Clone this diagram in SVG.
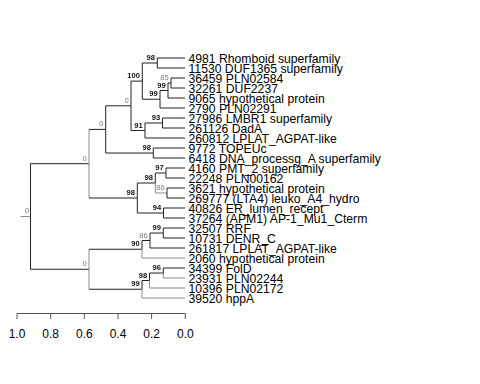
<svg xmlns="http://www.w3.org/2000/svg" width="480" height="384" viewBox="0 0 480 384">
<style>
.e{fill:none;stroke:#222;stroke-width:1}
.g{fill:none;stroke:#8c8c8c;stroke-width:1}
.lf{font-family:"Liberation Sans",Arial,sans-serif;font-size:12.2px;fill:#000}
.bs{font-family:"Liberation Sans",Arial,sans-serif;font-size:7.6px;font-weight:bold;fill:#111;text-anchor:end}
.bg{font-family:"Liberation Sans",Arial,sans-serif;font-size:7.6px;fill:#7a7a7a;text-anchor:end}
.ax{fill:none;stroke:#555;stroke-width:1}
.at{font-family:"Liberation Sans",Arial,sans-serif;font-size:12px;fill:#000;text-anchor:middle}
</style>
<defs><filter id="flat" x="0" y="0" width="1" height="1"><feOffset dx="0" dy="0"/></filter></defs>
<rect width="480" height="384" fill="#fff"/>
<g id="connectors">
<path class="g" d="M20.5 216.5 H30.5"/>
<path class="e" d="M30.5 216.5 V163.7 H89"/>
<path class="e" d="M30.5 216.5 V269.25 H89"/>
<path class="g" d="M89 163.7 V129.4"/><path class="e" d="M89 129.4 H105.7"/>
<path class="g" d="M89 163.7 V198"/><path class="e" d="M89 198 H137.3"/>
<path class="e" d="M105.7 129.4 V105.8 H131"/>
<path class="e" d="M105.7 129.4 V153 H153.3"/>
<path class="e" d="M131 105.8 V81.1 H142.3"/>
<path class="e" d="M131 105.8 V130.5 H145"/>
<path class="e" d="M142.3 81.1 V63 H157.3"/>
<path class="e" d="M142.3 81.1 V99.25 H160"/>
<path class="e" d="M157.3 63 V58 H185"/>
<path class="e" d="M157.3 63 V68 H185"/>
<path class="e" d="M160 99.25 V90.5 H168"/>
<path class="e" d="M160 99.25 V108 H185"/>
<path class="e" d="M168 90.5 V83 H171"/>
<path class="e" d="M168 90.5 V98 H185"/>
<path class="e" d="M171 83 V78 H185"/>
<path class="e" d="M171 83 V88 H185"/>
<path class="e" d="M145 130.5 V123 H162.5"/>
<path class="e" d="M145 130.5 V138 H185"/>
<path class="e" d="M162.5 123 V118 H185"/>
<path class="e" d="M162.5 123 V128 H185"/>
<path class="e" d="M153.3 153 V148 H185"/>
<path class="e" d="M153.3 153 V158 H185"/>
<path class="e" d="M137.3 198 V183 H155.3"/>
<path class="e" d="M137.3 198 V213 H163.5"/>
<path class="e" d="M155.3 183 V173 H166"/>
<path class="g" d="M155.3 183 V193 H167"/>
<path class="e" d="M166 173 V168 H185"/>
<path class="e" d="M166 173 V178 H185"/>
<path class="e" d="M167 193 V188 H185"/>
<path class="e" d="M167 193 V198 H185"/>
<path class="e" d="M163.5 213 V208 H185"/>
<path class="e" d="M163.5 213 V218 H185"/>
<path class="g" d="M89 269.25 V249.25"/><path class="e" d="M89 249.25 H142"/>
<path class="g" d="M89 269.25 V289.25"/><path class="e" d="M89 289.25 H142"/>
<path class="e" d="M142 249.25 V240.5 H150"/>
<path class="g" d="M142 249.25 V258 H185"/>
<path class="e" d="M150 240.5 V233 H163.3"/>
<path class="e" d="M150 240.5 V248 H185"/>
<path class="e" d="M163.3 233 V228 H185"/>
<path class="e" d="M163.3 233 V238 H185"/>
<path class="e" d="M142 289.25 V280.5 H149.5"/>
<path class="g" d="M142 289.25 V298 H185"/>
<path class="e" d="M149.5 280.5 V273 H163.3"/>
<path class="g" d="M149.5 280.5 V288 H185"/>
<path class="e" d="M163.3 273 V268 H185"/>
<path class="g" d="M163.3 273 V278 H185"/>
</g>
<g id="support" filter="url(#flat)">
<g id="n-root"><text class="bg" x="29.3" y="212.5">0</text></g>
<g id="n-0up"><text class="bg" x="86.7" y="160.7">0</text></g>
<g id="n-0low"><text class="bg" x="86.7" y="266.2">0</text></g>
<g id="n-0a"><text class="bg" x="103.4" y="126.4">0</text></g>
<g id="n-0b"><text class="bg" x="128.7" y="102.8">0</text></g>
<g id="n-100"><text class="bs" x="140" y="78.1">100</text></g>
<g id="n-98a"><text class="bs" x="155" y="60">98</text></g>
<g id="n-99l"><text class="bs" x="157.7" y="96.2">99</text></g>
<g id="n-99u"><text class="bs" x="165.7" y="87.5">99</text></g>
<g id="n-85"><text class="bg" x="168.7" y="80">85</text></g>
<g id="n-91"><text class="bs" x="142.7" y="127.5">91</text></g>
<g id="n-93"><text class="bs" x="160.2" y="120">93</text></g>
<g id="n-98b"><text class="bs" x="151" y="150">98</text></g>
<g id="n-98d"><text class="bs" x="135" y="195">98</text></g>
<g id="n-98c"><text class="bs" x="153" y="180">98</text></g>
<g id="n-97"><text class="bs" x="163.7" y="170">97</text></g>
<g id="n-86b"><text class="bg" x="164.7" y="190">86</text></g>
<g id="n-94"><text class="bs" x="161.2" y="210">94</text></g>
<g id="n-90"><text class="bs" x="139.7" y="246.2">90</text></g>
<g id="n-86c"><text class="bg" x="147.7" y="237.5">86</text></g>
<g id="n-99e"><text class="bs" x="161" y="230">99</text></g>
<g id="n-99f"><text class="bs" x="139.7" y="286.2">99</text></g>
<g id="n-98f"><text class="bs" x="147.2" y="277.5">98</text></g>
<g id="n-96"><text class="bs" x="161" y="270">96</text></g>
</g>
<g id="leaves">
<g id="t1"><text class="lf" x="188.5" y="62.5">4981 Rhomboid superfamily</text></g>
<g id="t2"><text class="lf" x="188.5" y="72.5">11530 DUF1365 superfamily</text></g>
<g id="t3"><text class="lf" x="188.5" y="82.5">36459 PLN02584</text></g>
<g id="t4"><text class="lf" x="188.5" y="92.5">32261 DUF2237</text></g>
<g id="t5"><text class="lf" x="188.5" y="102.5">9065 hypothetical protein</text></g>
<g id="t6"><text class="lf" x="188.5" y="112.5">2790 PLN02291</text></g>
<g id="t7"><text class="lf" x="188.5" y="122.5">27986 LMBR1 superfamily</text></g>
<g id="t8"><text class="lf" x="188.5" y="132.5">261126 DadA</text></g>
<g id="t9"><text class="lf" x="188.5" y="142.5">260812 LPLAT_AGPAT-like</text></g>
<g id="t10"><text class="lf" x="188.5" y="152.5">9772 TOPEUc</text></g>
<g id="t11"><text class="lf" x="188.5" y="162.5">6418 DNA_processg_A superfamily</text></g>
<g id="t12"><text class="lf" x="188.5" y="172.5">4160 PMT_2 superfamily</text></g>
<g id="t13"><text class="lf" x="188.5" y="182.5">22248 PLN00162</text></g>
<g id="t14"><text class="lf" x="188.5" y="192.5">3621 hypothetical protein</text></g>
<g id="t15"><text class="lf" x="188.5" y="202.5">269777 (LTA4) leuko_A4_hydro</text></g>
<g id="t16"><text class="lf" x="188.5" y="212.5">40826 ER_lumen_recept</text></g>
<g id="t17"><text class="lf" x="188.5" y="222.5">37264 (APM1) AP-1_Mu1_Cterm</text></g>
<g id="t18"><text class="lf" x="188.5" y="232.5">32507 RRF</text></g>
<g id="t19"><text class="lf" x="188.5" y="242.5">10731 DENR_C</text></g>
<g id="t20"><text class="lf" x="188.5" y="252.5">261817 LPLAT_AGPAT-like</text></g>
<g id="t21"><text class="lf" x="188.5" y="262.5">2060 hypothetical protein</text></g>
<g id="t22"><text class="lf" x="188.5" y="272.5">34399 FolD</text></g>
<g id="t23"><text class="lf" x="188.5" y="282.5">23931 PLN02244</text></g>
<g id="t24"><text class="lf" x="188.5" y="292.5">10396 PLN02172</text></g>
<g id="t25"><text class="lf" x="188.5" y="302.5">39520 hppA</text></g>
</g>
<g id="axis">
<path class="ax" d="M17 313.5 H185.3 M17 313.5 V319 M50.7 313.5 V319 M84.3 313.5 V319 M118 313.5 V319 M151.6 313.5 V319 M185.3 313.5 V319"/>
<text class="at" x="17" y="337.5">1.0</text>
<text class="at" x="50.7" y="337.5">0.8</text>
<text class="at" x="84.3" y="337.5">0.6</text>
<text class="at" x="118" y="337.5">0.4</text>
<text class="at" x="151.6" y="337.5">0.2</text>
<text class="at" x="185.3" y="337.5">0.0</text>
</g>
</svg>
